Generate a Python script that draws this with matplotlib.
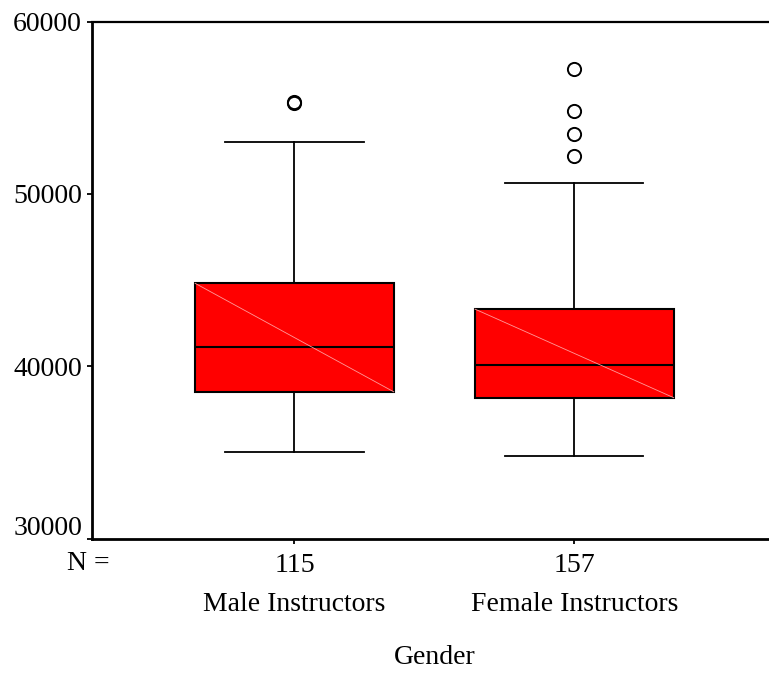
import matplotlib
matplotlib.use("Agg")
import matplotlib.pyplot as plt
from matplotlib.transforms import ScaledTranslation

# Salary distribution by instructor gender
groups = ["Male Instructors", "Female Instructors"]
counts = [115, 157]
q1 = [38510, 38170]
medians = [41130, 40060]
q3 = [44810, 43310]
whisker_low = [35000, 34800]
whisker_high = [52990, 50630]
outliers = [[55250, 55330], [52180, 53490, 54810, 57240]]

yticks = [30000, 40000, 50000, 60000]

plt.rcParams["font.family"] = ["Liberation Serif", "DejaVu Serif"]

fig = plt.figure(figsize=(7.69, 6.89), dpi=100)
ax = fig.add_axes([92 / 769, 1 - 538.5 / 689, 1 - 92 / 769, (538.5 - 21.5) / 689])

positions = [1, 2]
box_w = 0.71
cap_w = 0.494

stats = []
for i, name in enumerate(groups):
    stats.append(dict(label=str(counts[i]), q1=q1[i], med=medians[i], q3=q3[i],
                      whislo=whisker_low[i], whishi=whisker_high[i],
                      fliers=outliers[i]))

ax.bxp(stats, positions=positions, widths=box_w, capwidths=cap_w,
       patch_artist=True, showfliers=True,
       boxprops=dict(facecolor="#ff0000", edgecolor="black", linewidth=1.5),
       medianprops=dict(color="black", linewidth=1.5),
       whiskerprops=dict(color="black", linewidth=1.3),
       capprops=dict(color="black", linewidth=1.3),
       flierprops=dict(marker="o", markerfacecolor="none",
                       markeredgecolor="black", markersize=9.5,
                       markeredgewidth=1.4))

# faint diagonal across each box
for i, p in enumerate(positions):
    ax.plot([p - box_w / 2, p + box_w / 2], [q3[i], q1[i]],
            color="#ff9a9a", linewidth=0.6, zorder=3)

ax.set_ylim(30000, 60000)
ax.set_xlim(1 - 202.5 / 280, 2 + (769 - 574.3) / 280)
ax.set_yticks(yticks)
ax.set_yticklabels([str(v) for v in yticks])
ax.set_xticks(positions)
ax.set_xticklabels([str(c) for c in counts])

ax.spines["right"].set_visible(False)
for s in ["left", "bottom"]:
    ax.spines[s].set_linewidth(2.0)
ax.spines["top"].set_linewidth(1.6)

ax.tick_params(axis="y", direction="out", length=3.6, width=1.3, pad=3.6,
               labelsize=20)
ax.tick_params(axis="x", direction="out", length=3.6, width=1.3, pad=7,
               labelsize=20)

# lift the bottom tick label clear of the x axis line
bottom_label = ax.get_yticklabels()[0]
bottom_label.set_transform(bottom_label.get_transform()
                           + ScaledTranslation(0, 0.13, fig.dpi_scale_trans))

for i, p in enumerate(positions):
    ax.text(p, -0.1286, groups[i], transform=ax.get_xaxis_transform(),
            ha="center", va="center", fontsize=20)

fig.text(88 / 769, 1 - 563 / 689, "N =", ha="center", va="center", fontsize=20)
fig.text(435 / 769, 1 - 657 / 689, "Gender", ha="center", va="center",
         fontsize=20)

fig.savefig("out.png", dpi=100)
